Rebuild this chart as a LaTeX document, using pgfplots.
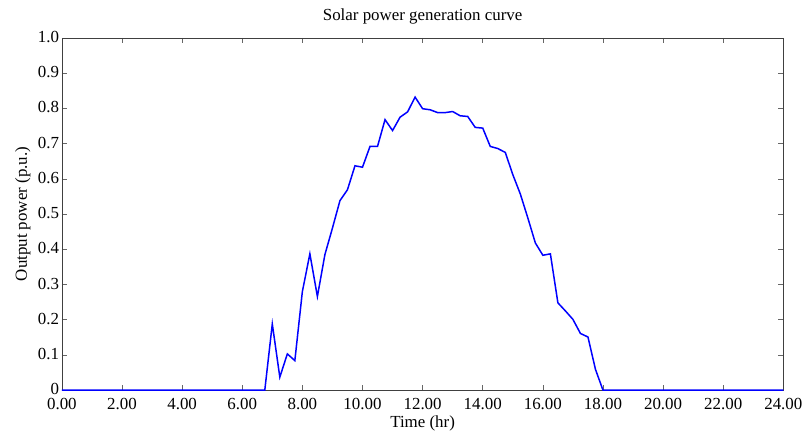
\documentclass[border=0pt]{standalone}
\usepackage{fontspec}
\setmainfont{Liberation Serif}
\usepackage{pgfplots}
\pgfplotsset{compat=1.18}
\begin{document}
\fontsize{17}{20}\selectfont
\begin{tikzpicture}
\begin{axis}[
  scale only axis,
  width=723bp, height=353bp,
  at={(0,0)}, anchor=south west,
  xmin=0, xmax=24, ymin=0, ymax=1,
  xtick={0,2,...,24},
  xticklabels={0.00,2.00,4.00,6.00,8.00,10.00,12.00,14.00,16.00,18.00,20.00,22.00,24.00},
  ytick={0,0.1,...,1.0},
  yticklabels={0,0.1,0.2,0.3,0.4,0.5,0.6,0.7,0.8,0.9,1.0},
  tick align=inside,
  major tick length=5bp,
  axis line style={black!75, line width=0.6bp},
  tick style={black!60, line width=0.5bp},
  ticklabel style={font=\fontsize{17}{20}\selectfont},
  label style={font=\fontsize{17}{20}\selectfont},
  title style={font=\fontsize{17}{20}\selectfont, yshift=2bp},
  xticklabel style={yshift=-2bp},
  yticklabel style={xshift=3bp, yshift=1bp},
  title={Solar power generation curve},
  xlabel={Time (hr)},
  ylabel={Output power (p.u.)},
  xlabel style={yshift=5bp},
  ylabel style={yshift=-4bp},
]
\addplot[color={rgb,255:red,0;green,0;blue,255}, line width=1.5bp] coordinates {
(0,0) (6.75,0) (7.0,0.188) (7.25,0.037) (7.5,0.103) (7.75,0.084)
(8.0,0.28) (8.25,0.387) (8.5,0.266) (8.75,0.385) (9.0,0.46)
(9.25,0.538) (9.5,0.569) (9.75,0.637) (10.0,0.633) (10.25,0.692)
(10.5,0.692) (10.75,0.768) (11.0,0.737) (11.25,0.775) (11.5,0.79)
(11.75,0.832) (12.0,0.799) (12.25,0.796) (12.5,0.788) (12.75,0.788)
(13.0,0.791) (13.25,0.779) (13.5,0.777) (13.75,0.746) (14.0,0.744)
(14.25,0.692) (14.5,0.686) (14.75,0.675) (15.0,0.612) (15.25,0.557)
(15.5,0.489) (15.75,0.418) (16.0,0.383) (16.25,0.387) (16.5,0.248)
(16.75,0.225) (17.0,0.201) (17.25,0.161) (17.5,0.151) (17.75,0.059)
(18.0,0) (24,0)
};
\end{axis}
\useasboundingbox (-62bp,-39bp) rectangle (746bp,391bp);
\end{tikzpicture}
\end{document}
